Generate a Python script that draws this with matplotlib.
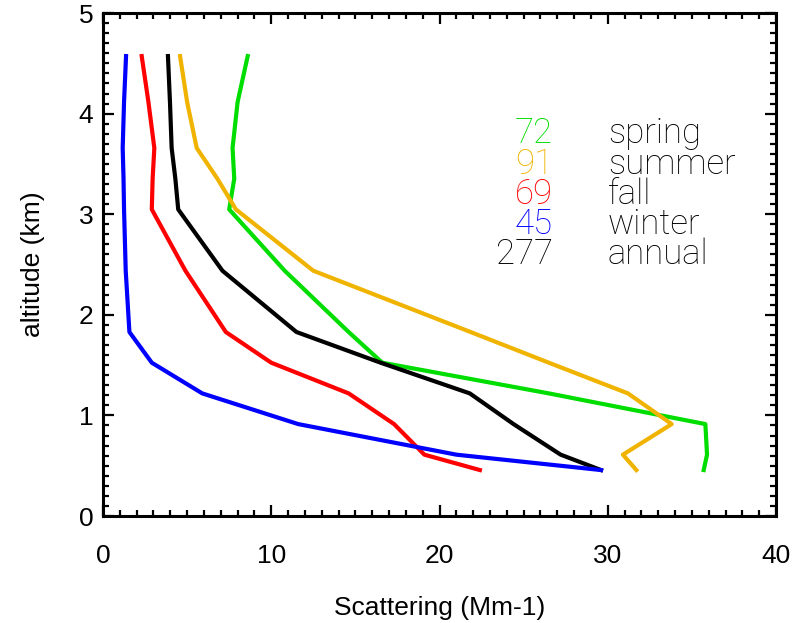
import numpy as np
import matplotlib.pyplot as plt
from matplotlib.ticker import MultipleLocator

# altitude levels (km)
alt = [0.457, 0.610, 0.914, 1.219, 1.524, 1.829, 2.438, 3.048, 3.353, 3.658, 4.115, 4.572]

# scattering (Mm-1) per season
spring = [35.7, 35.9, 35.8, 26.5, 16.6, 14.6, 10.8, 7.5, 7.8, 7.7, 8.0, 8.6]
summer = [31.7, 30.9, 33.8, 31.2, 26.5, 21.85, 12.5, 7.9, 6.8, 5.57, 5.0, 4.58]
fall = [22.4, 19.1, 17.3, 14.6, 10.0, 7.3, 4.9, 2.9, 2.95, 3.05, 2.7, 2.3]
winter = [29.6, 21.0, 11.6, 5.9, 2.9, 1.57, 1.35, 1.25, 1.22, 1.17, 1.25, 1.37]
annual = [29.6, 27.2, 24.4, 21.8, 16.5, 11.5, 7.1, 4.47, 4.3, 4.08, 3.98, 3.86]

counts = ['72', '91', '69', '45', '277']
names = ['spring', 'summer', 'fall', 'winter', 'annual']
colors = ['#00dd00', '#f0b400', '#ff0000', '#0000ff', '#000000']

fig = plt.figure(figsize=(7.96, 6.23), dpi=100)
ax = fig.add_axes([0.1294, 0.1717, 0.8455, 0.8074])

ax.plot(spring, alt, color=colors[0], lw=3)
ax.plot(fall, alt, color=colors[2], lw=3)
ax.plot(annual, alt, color=colors[4], lw=3)
ax.plot(winter, alt, color=colors[3], lw=3)
ax.plot(summer, alt, color=colors[1], lw=3)

ax.set_xlim(0, 40)
ax.set_ylim(0, 5)
ax.xaxis.set_major_locator(MultipleLocator(10))
ax.xaxis.set_minor_locator(MultipleLocator(1))
ax.yaxis.set_major_locator(MultipleLocator(1))
ax.yaxis.set_minor_locator(MultipleLocator(0.1))

for s in ax.spines.values():
    s.set_linewidth(2.2)
ax.tick_params(which='both', direction='in', top=True, right=True, width=1.6)
ax.tick_params(which='major', length=8)
ax.tick_params(which='minor', length=4)
ax.tick_params(axis='x', which='major', pad=20, labelsize=19)
ax.tick_params(axis='y', which='major', pad=7, labelsize=19)
for lab in ax.get_xticklabels() + ax.get_yticklabels():
    lab.set_family('Liberation Sans')

ax.set_xlabel('Scattering (Mm-1)', fontsize=19, family='Liberation Sans', labelpad=20)
ax.set_ylabel('altitude (km)', fontsize=19, family='Liberation Sans', labelpad=24)

# legend-like labels
ys = [3.705, 3.400, 3.101, 2.803, 2.505]
for c, n, col, y in zip(counts, names, colors, ys):
    ax.text(26.75, y, c, color=col, ha='right', va='baseline', fontsize=25,
            family=['Roboto', 'DejaVu Sans'], fontweight='light')
    ax.text(30.0, y, n, color='black', ha='left', va='baseline', fontsize=25,
            family=['Roboto', 'DejaVu Sans'], fontweight='light')

fig.savefig('out.png', dpi=100)
